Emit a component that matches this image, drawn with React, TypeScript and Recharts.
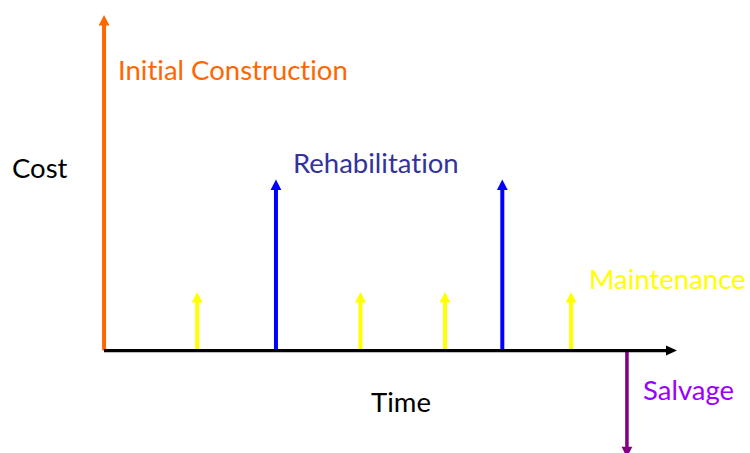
import React from "react";
import { ComposedChart, Bar, Cell, XAxis, YAxis, ReferenceLine, Customized } from "recharts";

// Event times (arbitrary time units along the horizontal axis)
const eventTimes = [0, 6.5, 12, 17.9, 23.8, 27.8, 32.6, 36.5];
// Kind of each cost event
const eventKinds = [
  "construction",
  "maintenance",
  "rehabilitation",
  "maintenance",
  "maintenance",
  "rehabilitation",
  "maintenance",
  "salvage",
];
// Cost of each event (relative units; salvage is negative)
const eventCosts = [100, 17.5, 51, 17.5, 17.5, 51, 17.5, -31.8];
// End of the time axis
const timeAxisEnd = 40;

// Labels
const labels = [
  { text: "Initial Construction", kind: "construction" },
  { text: "Rehabilitation", kind: "rehabilitation" },
  { text: "Maintenance", kind: "maintenance" },
  { text: "Salvage", kind: "salvage" },
  { text: "Cost", kind: "axis" },
  { text: "Time", kind: "axis" },
];

const data = eventTimes.map((t, i) => ({ t, kind: eventKinds[i], cost: eventCosts[i] }));

const lineColor: Record<string, string> = {
  construction: "#FF6600",
  rehabilitation: "#0000FF",
  maintenance: "#FFFF00",
  salvage: "#800080",
};
const lineWidth: Record<string, number> = {
  construction: 4,
  rehabilitation: 4,
  maintenance: 4,
  salvage: 3.5,
};
const textColor: Record<string, string> = {
  construction: "#FF6600",
  rehabilitation: "#333399",
  maintenance: "#FFFF00",
  salvage: "#9900FF",
  axis: "#000000",
};
const textPos: Record<string, [number, number]> = {
  "Initial Construction": [118, 80],
  Rehabilitation: [293, 173],
  Maintenance: [589, 289],
  Salvage: [643, 400],
  Cost: [12, 178],
  Time: [371, 412],
};

const HEAD_LEN = 10.5;
const HEAD_HALF = 5.4;

const ArrowShape = (props: any) => {
  const { x, y, width, height, payload } = props;
  if (x == null || y == null) return <g />;
  const kind = payload.kind;
  const color = lineColor[kind];
  const sw = lineWidth[kind];
  const cx = x + width / 2;
  const top = Math.min(y, y + height);
  const bot = Math.max(y, y + height);
  const up = payload.cost >= 0;
  const tip = up ? top : bot;
  const base = up ? bot : top;
  const dir = up ? 1 : -1; // direction from tip back toward base
  const headBase = tip + dir * HEAD_LEN;
  return (
    <g>
      <line x1={cx} y1={base} x2={cx} y2={headBase + dir * -0.5} stroke={color} strokeWidth={sw} />
      <polygon
        points={`${cx},${tip} ${cx - HEAD_HALF},${headBase} ${cx + HEAD_HALF},${headBase}`}
        fill={color}
      />
    </g>
  );
};

const AxisArrow = (props: any) => {
  const { x1, y1, x2, y2 } = props;
  if (x1 == null) return <g />;
  const headBase = x2 - 11;
  return (
    <g>
      <line x1={x1} y1={y1} x2={headBase + 0.5} y2={y2} stroke="#000" strokeWidth={3.2} />
      <polygon points={`${x2},${y2} ${headBase},${y2 - 5} ${headBase},${y2 + 5}`} fill="#000" />
    </g>
  );
};

const Texts = () => (
  <g
    style={{
      fontFamily: "Lato, 'Open Sans', sans-serif",
      fontSize: 27.5,
      fontVariantLigatures: "none",
      fontFeatureSettings: '"liga" 0, "clig" 0',
    }}
  >
    {labels.map((l) => (
      <text key={l.text} x={textPos[l.text][0]} y={textPos[l.text][1]} fill={textColor[l.kind]}>
        {l.text}
      </text>
    ))}
  </g>
);

export default function App() {
  return (
    <div
      style={{
        position: "absolute",
        left: 0,
        top: 0,
        width: 750,
        height: 453,
        overflow: "hidden",
        background: "#fff",
      }}
    >
      <ComposedChart
        width={750}
        height={460}
        data={data}
        margin={{ top: 0, right: 73, bottom: 0, left: 104 }}
      >
        <XAxis dataKey="t" type="number" domain={[0, timeAxisEnd]} hide />
        <YAxis type="number" domain={[-32.6, 104.5]} hide />
        <Bar dataKey="cost" barSize={12} isAnimationActive={false} shape={ArrowShape}>
          {data.map((d, i) => (
            <Cell key={i} fill={lineColor[d.kind]} />
          ))}
        </Bar>
        <ReferenceLine y={0} shape={AxisArrow} ifOverflow="visible" />
        <Customized component={Texts} />
      </ComposedChart>
    </div>
  );
}
